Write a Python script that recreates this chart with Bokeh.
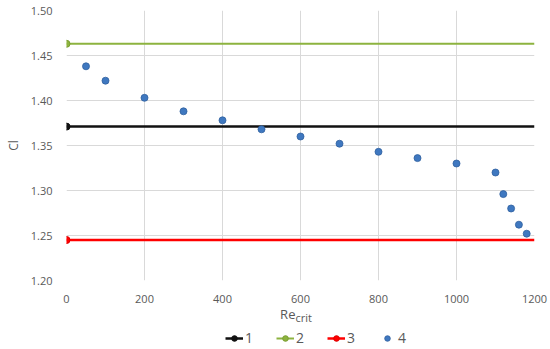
from bokeh.plotting import figure
from bokeh.layouts import column
from bokeh.models import (Range1d, FixedTicker, NumeralTickFormatter, Legend, LegendItem,
                          ColumnDataSource)
from bokeh.core.properties import value
from bokeh.embed import file_html
from bokeh.resources import INLINE

# Data
line_x = [0, 1200]
cl_1 = 1.371
cl_2 = 1.463
cl_3 = 1.245
re_4 = [50, 100, 200, 300, 400, 500, 600, 700, 800, 900, 1000, 1100, 1120, 1140, 1160, 1180]
cl_4 = [1.438, 1.422, 1.403, 1.388, 1.378, 1.368, 1.360, 1.352, 1.343, 1.336, 1.330, 1.320, 1.296, 1.280, 1.262, 1.252]
x_ticks = [0, 200, 400, 600, 800, 1000, 1200]
y_ticks = [1.20, 1.25, 1.30, 1.35, 1.40, 1.45, 1.50]
series_names = ["1", "2", "3", "4"]
xlabel_main = "Re"
xlabel_sub = "crit"

FONT = "Open Sans"
TXT = "#595959"
C1, C2, C3, C4 = "#111111", "#8db33f", "#ff0000", "#3f78c0"

W = 550
LEFT = 66
RIGHT = 16
H1 = 305
H2 = 43

p = figure(width=W, height=H1, output_backend="svg", toolbar_location=None,
           x_range=Range1d(0, 1200), y_range=Range1d(1.20, 1.50),
           min_border_left=LEFT, min_border_right=RIGHT, min_border_top=10, min_border_bottom=0)
p.outline_line_color = None

for ax in (p.xaxis[0], p.yaxis[0]):
    ax.axis_line_color = None
    ax.major_tick_line_color = None
    ax.minor_tick_line_color = None
    ax.major_label_text_font = FONT
    ax.major_label_text_font_size = "11px"
    ax.major_label_text_color = TXT

p.xaxis.ticker = FixedTicker(ticks=x_ticks)
p.yaxis.ticker = FixedTicker(ticks=y_ticks)
p.yaxis.formatter = NumeralTickFormatter(format="0.00")
p.xaxis.major_label_standoff = 8
p.yaxis.major_label_standoff = 8

p.yaxis.axis_label = "Cl"
p.yaxis.axis_label_text_font = FONT
p.yaxis.axis_label_text_font_size = "12px"
p.yaxis.axis_label_text_font_style = "normal"
p.yaxis.axis_label_text_color = TXT
p.yaxis.axis_label_standoff = 6

p.xgrid.ticker = FixedTicker(ticks=x_ticks)
p.ygrid.ticker = FixedTicker(ticks=y_ticks)
p.xgrid.grid_line_color = "#d9d9d9"
p.ygrid.grid_line_color = "#d9d9d9"

p.line(line_x, [cl_1, cl_1], line_color=C1, line_width=2.5)
p.scatter([line_x[0]], [cl_1], size=7, fill_color=C1, line_color=C1)
p.line(line_x, [cl_2, cl_2], line_color=C2, line_width=2)
p.scatter([line_x[0]], [cl_2], size=7, fill_color=C2, line_color="#7a9e30")
p.line(line_x, [cl_3, cl_3], line_color=C3, line_width=2.5)
p.scatter([line_x[0]], [cl_3], size=7, fill_color=C3, line_color="#dd0000")
p.scatter(re_4, cl_4, size=7, fill_color=C4, line_color="#2e5f9e", line_width=0.8)

# Lower panel: x-axis title and legend
p2 = figure(width=W, height=H2, output_backend="svg", toolbar_location=None,
            x_range=Range1d(0, 1200), y_range=Range1d(0, H2),
            min_border_left=LEFT, min_border_right=RIGHT, min_border_top=0, min_border_bottom=0)
p2.axis.visible = False
p2.grid.visible = False
p2.outline_line_color = None

p2.text(x=[587], y=[35], text=[xlabel_main], text_align="right", text_baseline="middle",
        text_font=value(FONT), text_font_size="13px", text_color=TXT)
p2.text(x=[587], y=[31], text=[xlabel_sub], text_align="left", text_baseline="middle",
        text_font=value(FONT), text_font_size="11px", text_color=TXT)

# legend proxies (one point kept outside the visible range)
proxy = ColumnDataSource(dict(x=[-1000], y=[-1000]))
d1l = p2.line("x", "y", source=proxy, line_color=C1, line_width=2.5)
d1m = p2.scatter("x", "y", source=proxy, size=7, fill_color=C1, line_color=C1)
d2l = p2.line("x", "y", source=proxy, line_color=C2, line_width=2)
d2m = p2.scatter("x", "y", source=proxy, size=7, fill_color=C2, line_color="#7a9e30")
d3l = p2.line("x", "y", source=proxy, line_color=C3, line_width=2.5)
d3m = p2.scatter("x", "y", source=proxy, size=7, fill_color=C3, line_color="#dd0000")
d4m = p2.scatter("x", "y", source=proxy, size=7, fill_color=C4, line_color="#2e5f9e", line_width=0.8)

legend = Legend(items=[
    LegendItem(label=series_names[0], renderers=[d1l, d1m]),
    LegendItem(label=series_names[1], renderers=[d2l, d2m]),
    LegendItem(label=series_names[2], renderers=[d3l, d3m]),
    LegendItem(label=series_names[3], renderers=[d4m]),
], orientation="horizontal", location=(159, 1),
    label_text_font=FONT, label_text_font_size="14px", label_text_color=TXT,
    glyph_width=18, glyph_height=14, spacing=11, label_standoff=2,
    border_line_color=None, background_fill_alpha=0, padding=2, margin=0)
p2.add_layout(legend)

layout = column(p, p2, spacing=0)
open("out.html", "w").write(file_html(layout, INLINE))
